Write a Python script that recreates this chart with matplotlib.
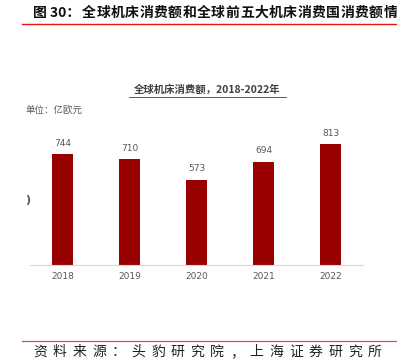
import matplotlib
matplotlib.use('Agg')
import matplotlib.pyplot as plt
from matplotlib.lines import Line2D

plt.rcParams['font.family'] = ['Noto Sans CJK SC', 'DejaVu Sans']

# ── Data ────────────────────────────────────────────────────────────────────
years  = ['2018', '2019', '2020', '2021', '2022']
values = [744, 710, 573, 694, 813]

FIG_NO      = '图 30：'
FIG_TITLE   = '全球机床消费额和全球前五大机床消费国消费额情况'
CHART_TITLE = '全球机床消费额，2018-2022年'
UNIT_LABEL  = '单位：亿欧元'
SOURCE      = '资料来源：头豹研究院，上海证券研究所'

BAR_COLOUR  = '#990000'
GREY_TEXT   = '#595959'

W, H = 397, 359
fig = plt.figure(figsize=(W / 100, H / 100), dpi=100)
fig.patch.set_facecolor('white')


def px(x, y):
    """pixel coords (top-left origin) -> figure fraction"""
    return x / W, 1 - y / H


# ── Header (letter-spaced, runs off the right edge like the source page) ────
fig.text(*px(33, 13), FIG_NO, fontsize=10, fontweight='bold',
         color='#111111', ha='left', va='center')
for i, ch in enumerate(FIG_TITLE):
    xp = 82 + i * 14.35
    if xp > W - 6:
        break
    fig.text(*px(xp, 13), ch, fontsize=10, fontweight='bold',
             color='#111111', ha='left', va='center')
fig.add_artist(Line2D([22 / W, 1], [1 - 24 / H] * 2, color='#ee1111', lw=1.0,
                      transform=fig.transFigure))

# ── Bar chart ──────────────────────────────────────────────────────────────
ax = fig.add_axes([30 / W, 1 - 265 / H, (363 - 30) / W, 134 / H])
x = range(len(years))
bars = ax.bar(x, values, width=0.31, color=BAR_COLOUR, zorder=2)
for b, v in zip(bars, values):
    ax.annotate(str(v), (b.get_x() + b.get_width() / 2, v), xytext=(0, 4.5),
                textcoords='offset points', ha='center', va='bottom',
                fontsize=6.5, color=GREY_TEXT, family='DejaVu Sans')

ax.set_xlim(-0.49, 4.48)
ax.set_ylim(0, 900)
ax.set_xticks(list(x))
ax.set_xticklabels(years, fontsize=6.5, color=GREY_TEXT, family='DejaVu Sans')
ax.tick_params(axis='x', length=0, pad=5)
ax.set_yticks([])
for s in ['top', 'right', 'left']:
    ax.spines[s].set_visible(False)
ax.spines['bottom'].set_color('#d9d9d9')
ax.spines['bottom'].set_linewidth(0.8)

# chart title (underlined) and unit
fig.text(*px(207, 90), CHART_TITLE, fontsize=7.5, fontweight='bold',
         color='#404040', ha='center', va='center')
fig.add_artist(Line2D([129 / W, 286 / W], [1 - 97 / H] * 2, color='#404040',
                      lw=0.6, transform=fig.transFigure))
fig.text(*px(25, 110), UNIT_LABEL, fontsize=6.8, color=GREY_TEXT,
         ha='left', va='center')
fig.text(*px(25, 200), ')', fontsize=8, fontweight='bold', color='#555555',
         ha='left', va='center', family='DejaVu Sans')

# ── Footer ─────────────────────────────────────────────────────────────────
fig.add_artist(Line2D([22 / W, 1], [1 - 341 / H] * 2, color='#e84848', lw=0.9,
                      transform=fig.transFigure))
for i, ch in enumerate(SOURCE):
    fig.text(*px(33 + i * 19.7, 352), ch, fontsize=10, color='#222222',
             ha='left', va='center')

fig.savefig('out.png', dpi=100, facecolor='white')
